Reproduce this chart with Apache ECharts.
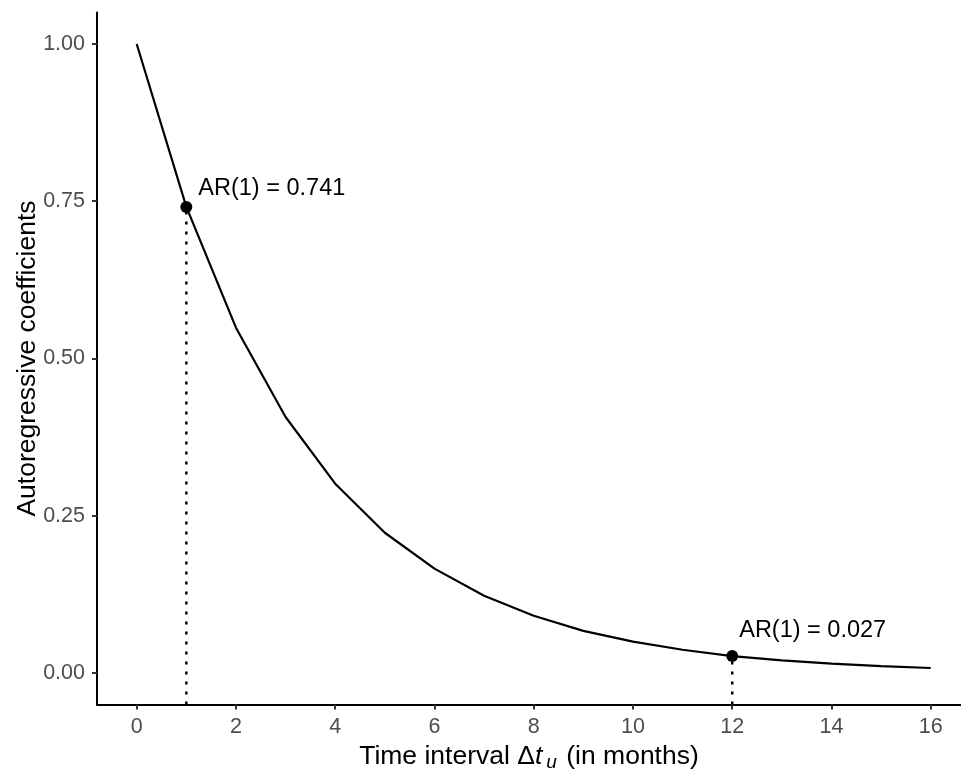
<!DOCTYPE html>
<html>
<head>
<meta charset="utf-8">
<script src="https://cdn.jsdelivr.net/npm/echarts@6/dist/echarts.min.js"></script>
<style>
html, body { margin: 0; padding: 0; background: #fff; }
#chart { width: 961px; height: 772px; }
</style>
</head>
<body>
<div id="chart"></div>
<script>
// values
var months = [0, 1, 2, 3, 4, 5, 6, 7, 8, 9, 10, 11, 12, 13, 14, 15, 16];
var coefs = [1.000, 0.741, 0.549, 0.407, 0.301, 0.223, 0.166, 0.123, 0.091, 0.067, 0.050, 0.037, 0.027, 0.020, 0.015, 0.011, 0.008];
var xTicks = [0, 2, 4, 6, 8, 10, 12, 14, 16];
var yTicks = [0, 0.25, 0.5, 0.75, 1];
var markedMonths = [1, 12];
var markedLabels = ['AR(1) = 0.741', 'AR(1) = 0.027'];

var font = 'Liberation Sans, Arial, sans-serif';

var curve = months.map(function (m, i) { return [m, coefs[i]]; });

var pts = markedMonths.map(function (m, i) {
  return {
    value: [m, coefs[months.indexOf(m)]],
    label: {
      show: true,
      formatter: markedLabels[i],
      position: 'right',
      offset: i === 0 ? [1, -18] : [-4, -26]
    }
  };
});

var dropSeries = markedMonths.map(function (m) {
  return {
    type: 'line',
    data: [[m, -0.05], [m, coefs[months.indexOf(m)]]],
    symbol: 'none',
    lineStyle: { color: '#000', width: 2.5, type: [3, 7] },
    silent: true,
    z: 1
  };
});

var myChart = echarts.init(document.getElementById('chart'));

var option = {
  animation: false,
  textStyle: { fontFamily: font },
  grid: { left: 97, right: 0, top: 12.5, bottom: 67.5, outerBoundsMode: 'none', containLabel: false },
  xAxis: {
    type: 'value',
    min: -0.8,
    max: 16.61,
    name: 'Time interval Δ{i|t}{s|u} (in months)',
    nameLocation: 'middle',
    nameGap: 37,
    nameMoveOverlap: false,
    nameTextStyle: {
      fontSize: 26.5, color: '#000', fontFamily: font,
      rich: {
        i: { fontSize: 26.5, fontStyle: 'italic', fontFamily: font, color: '#000' },
        s: { fontSize: 19, fontStyle: 'italic', fontFamily: font, color: '#000', verticalAlign: 'bottom', padding: [12, 2, 0, 4] }
      }
    },
    axisLine: { onZero: false, lineStyle: { color: '#000', width: 2 } },
    axisTick: { show: true, length: 5, lineStyle: { color: '#333', width: 2 }, customValues: xTicks },
    axisLabel: { color: '#4d4d4d', fontSize: 21.5, margin: 12, customValues: xTicks },
    splitLine: { show: false }
  },
  yAxis: {
    type: 'value',
    min: -0.05,
    max: 1.05,
    name: 'Autoregressive coefficients',
    nameLocation: 'middle',
    nameGap: 56,
    nameMoveOverlap: false,
    nameTextStyle: { fontSize: 26.5, color: '#000', fontFamily: font },
    axisLine: { onZero: false, lineStyle: { color: '#000', width: 2 } },
    axisTick: { show: true, length: 5, lineStyle: { color: '#333', width: 2 }, customValues: yTicks },
    axisLabel: {
      color: '#4d4d4d', fontSize: 21.5, margin: 12, customValues: yTicks,
      formatter: function (v) { return v.toFixed(2); }
    },
    splitLine: { show: false }
  },
  series: [
    {
      type: 'line',
      data: curve,
      symbol: 'none',
      lineStyle: { color: '#000', width: 2.2 },
      z: 2
    }
  ].concat(dropSeries).concat([
    {
      type: 'scatter',
      data: pts,
      symbolSize: 12,
      itemStyle: { color: '#000', opacity: 1 },
      label: { color: '#000', fontSize: 23.5, fontFamily: font },
      z: 3
    }
  ])
};

myChart.setOption(option);
</script>
</body>
</html>
